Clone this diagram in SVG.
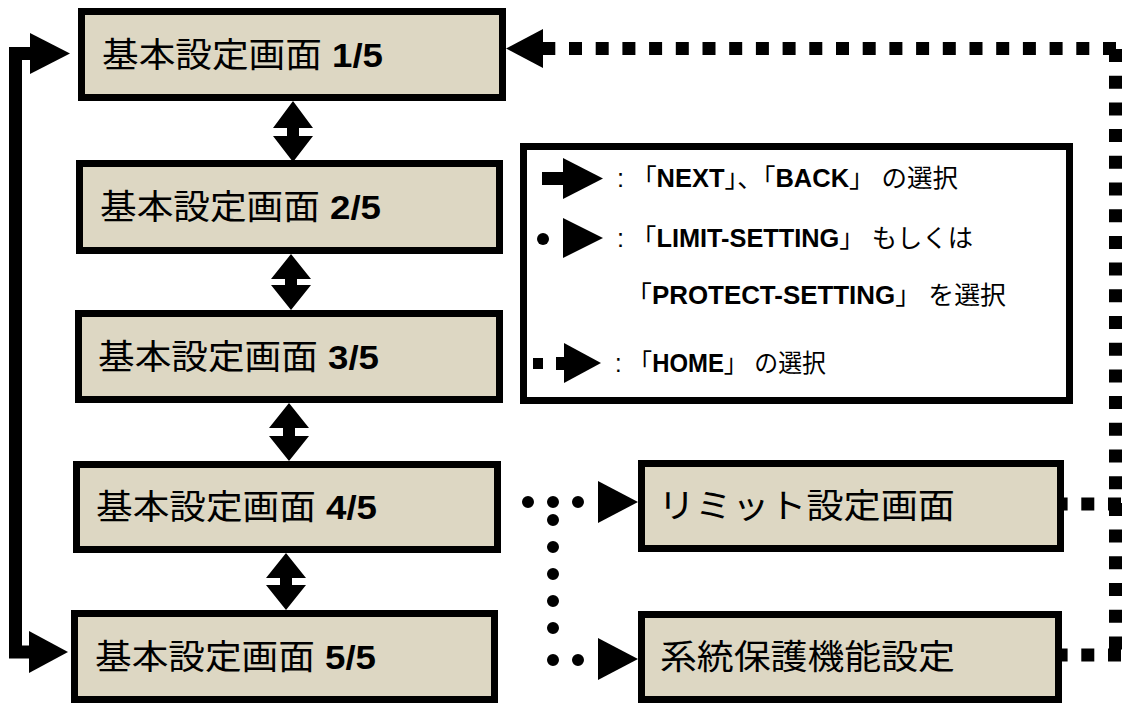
<svg xmlns="http://www.w3.org/2000/svg" width="1122" height="704" viewBox="0 0 1122 704">
<style>
.box{fill:#ddd7c3;stroke:#000;stroke-width:7}
.lg{fill:#fff;stroke:#000;stroke-width:7}
.t{font-family:'Liberation Sans','Noto Sans CJK JP',sans-serif;font-size:34px;fill:#000}
.l{font-family:'Liberation Sans','Noto Sans CJK JP',sans-serif;font-size:25px;fill:#000}
.b{font-weight:bold}
.solid{fill:none;stroke:#000;stroke-width:13;stroke-linejoin:miter}
.dots{fill:none;stroke:#000;stroke-width:12;stroke-linecap:round}
.sq{fill:none;stroke:#000;stroke-width:13;stroke-dasharray:13 13.7}
</style>
<g id="connectors">
  <path class="solid" d="M33,53.5 H15.5 V652 H31"/>
  <polygon points="30,33 70,53.5 30,74"/>
  <polygon points="29,631 68,652 29,673"/>
  <polygon points="293,101 313,128 299,128 299,136 313,136 293,162 273,136 287,136 287,128 273,128"/>
  <polygon points="291,254 311,279 297,279 297,285 311,285 291,310 271,285 285,285 285,279 271,279"/>
  <polygon points="289,403 309,428 295,428 295,436 309,436 289,461 269,436 283,436 283,428 269,428"/>
  <polygon points="286,553 306,578 292,578 292,585 306,585 286,610 266,585 280,585 280,578 266,578"/>
  <path class="dots" d="M528,502 H590" stroke-dasharray="0 25"/>
  <path class="dots" d="M553,520 V655" stroke-dasharray="0 27"/>
  <path class="dots" d="M553,660 H590" stroke-dasharray="0 25"/>
  <polygon points="598,481 638,502 598,523"/>
  <polygon points="598,638 638,659 598,680"/>
  <path class="sq" d="M1116,48.5 H543"/>
  <path class="sq" d="M1115.5,49 V662"/>
  <path class="sq" d="M1121,504 H1064"/>
  <path class="sq" d="M1121,655 H1062"/>
  <polygon points="506,48.5 543,29 543,68"/>
</g>
<g id="box1"><rect class="box" x="81.5" y="11.5" width="421" height="86"/><text class="t" x="102" y="67" textLength="281" lengthAdjust="spacingAndGlyphs">基本設定画面 <tspan class="b">1/5</tspan></text></g>
<g id="box2"><rect class="box" x="79.5" y="163.5" width="420" height="87"/><text class="t" x="100" y="219" textLength="281" lengthAdjust="spacingAndGlyphs">基本設定画面 <tspan class="b">2/5</tspan></text></g>
<g id="box3"><rect class="box" x="78.5" y="313.5" width="421" height="86"/><text class="t" x="98" y="369" textLength="281" lengthAdjust="spacingAndGlyphs">基本設定画面 <tspan class="b">3/5</tspan></text></g>
<g id="box4"><rect class="box" x="76.5" y="464.5" width="421" height="85"/><text class="t" x="96" y="519" textLength="281" lengthAdjust="spacingAndGlyphs">基本設定画面 <tspan class="b">4/5</tspan></text></g>
<g id="box5"><rect class="box" x="74.5" y="613.5" width="420" height="86"/><text class="t" x="95" y="669" textLength="281" lengthAdjust="spacingAndGlyphs">基本設定画面 <tspan class="b">5/5</tspan></text></g>
<g id="limit"><rect class="box" x="641.5" y="463.5" width="419" height="85"/><text class="t" x="658" y="518" textLength="297" lengthAdjust="spacingAndGlyphs">リミット設定画面</text></g>
<g id="protect"><rect class="box" x="641.5" y="614.5" width="417" height="85"/><text class="t" x="660" y="669" textLength="295" lengthAdjust="spacingAndGlyphs">系統保護機能設定</text></g>
<g id="legend">
  <rect class="lg" x="523.5" y="146.5" width="546" height="254"/>
  <rect x="542" y="172" width="22" height="13"/>
  <polygon points="563,158 603,178.5 563,199"/>
  <text class="l" x="617" y="187" textLength="341" lengthAdjust="spacingAndGlyphs">: 「<tspan class="b">NEXT</tspan>」、「<tspan class="b">BACK</tspan>」 の選択</text>
  <circle cx="543" cy="239" r="6"/>
  <polygon points="563,218 603,238 563,258"/>
  <text class="l" x="617" y="247" textLength="356" lengthAdjust="spacingAndGlyphs">: 「<tspan class="b">LIMIT-SETTING</tspan>」 もしくは</text>
  <text class="l" x="626" y="304" textLength="380" lengthAdjust="spacingAndGlyphs">「<tspan class="b">PROTECT-SETTING</tspan>」 を選択</text>
  <rect x="533" y="358" width="10" height="11"/>
  <rect x="556" y="357" width="9" height="13"/>
  <polygon points="564,343 601,363 564,383"/>
  <text class="l" x="615" y="372" textLength="211" lengthAdjust="spacingAndGlyphs">: 「<tspan class="b">HOME</tspan>」 の選択</text>
</g>
</svg>
